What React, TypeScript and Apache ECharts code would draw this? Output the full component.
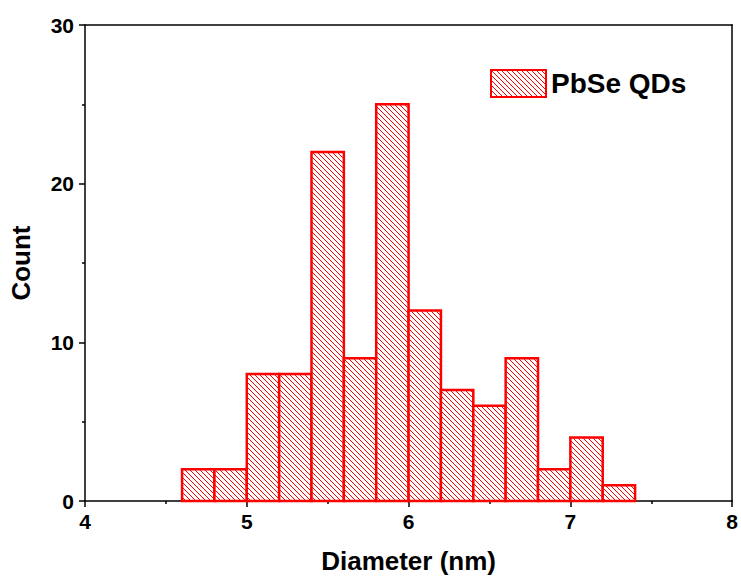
import React, { useEffect, useRef } from "react";
import * as echarts from "echarts";

const binStarts = [4.6, 4.8, 5.0, 5.2, 5.4, 5.6, 5.8, 6.0, 6.2, 6.4, 6.6, 6.8, 7.0, 7.2];
const binWidth = 0.2;
const counts = [2, 2, 8, 8, 22, 9, 25, 12, 7, 6, 9, 2, 4, 1];
const seriesName = "PbSe QDs";
const xTitle = "Diameter (nm)";
const yTitle = "Count";

function makePattern(): string {
  const s = 5;
  const c = document.createElement("canvas");
  c.width = s;
  c.height = s;
  const ctx = c.getContext("2d")!;
  ctx.fillStyle = "#ffffff";
  ctx.fillRect(0, 0, s, s);
  ctx.strokeStyle = "#ff0000";
  ctx.lineWidth = 1;
  for (const o of [-s, 0, s]) {
    ctx.beginPath();
    ctx.moveTo(o, 0);
    ctx.lineTo(o + s, s);
    ctx.stroke();
  }
  return c.toDataURL();
}

export default function App() {
  const ref = useRef<HTMLDivElement>(null);
  useEffect(() => {
    if (!ref.current) return;
    const chart = echarts.init(ref.current, undefined, { renderer: "svg" });
    const img = makePattern();
    const pattern: any = { image: img, repeat: "repeat" };
    const data = binStarts.map((s, i) => [s, s + binWidth, counts[i]]);
    const font = "'Liberation Sans', Arial, sans-serif";
    chart.setOption({
      animation: false,
      backgroundColor: "#ffffff",
      grid: { left: 85, top: 25, right: 5, bottom: 77 },
      legend: {
        show: true,
        left: 485,
        top: 64,
        itemWidth: 55,
        itemHeight: 27,
        icon: "rect",
        textStyle: {
          fontFamily: font,
          fontWeight: "bold",
          fontSize: 28,
          color: "#000",
        },
        data: [{ name: seriesName, icon: "rect" }],
      },
      xAxis: [
        {
          type: "value",
          min: 4,
          max: 8,
          interval: 1,
          name: xTitle,
          nameLocation: "middle",
          nameGap: 47,
          nameTextStyle: { fontFamily: font, fontWeight: "bold", fontSize: 26, color: "#000" },
          axisLine: { show: true, onZero: false, lineStyle: { color: "#000", width: 1.5 } },
          axisTick: { show: true, inside: false, length: 6, lineStyle: { color: "#000", width: 1.5 } },
          minorTick: { show: true, splitNumber: 2, length: 3, lineStyle: { color: "#000", width: 1.5 } },
          axisLabel: { fontFamily: font, fontWeight: "bold", fontSize: 21, color: "#000", margin: 10 },
          splitLine: { show: false },
        },
        {
          type: "value",
          position: "top",
          min: 4,
          max: 8,
          interval: 1,
          axisLine: { show: true, onZero: false, lineStyle: { color: "#000", width: 1.5 } },
          axisTick: { show: false },
          axisLabel: { show: false },
          splitLine: { show: false },
        },
      ],
      yAxis: [
        {
          type: "value",
          min: 0,
          max: 30,
          interval: 10,
          name: yTitle,
          nameLocation: "middle",
          nameGap: 51,
          nameTextStyle: { fontFamily: font, fontWeight: "bold", fontSize: 26, color: "#000" },
          axisLine: { show: true, onZero: false, lineStyle: { color: "#000", width: 1.5 } },
          axisTick: { show: true, inside: false, length: 6, lineStyle: { color: "#000", width: 1.5 } },
          minorTick: { show: true, splitNumber: 2, length: 3, lineStyle: { color: "#000", width: 1.5 } },
          axisLabel: { fontFamily: font, fontWeight: "bold", fontSize: 21, color: "#000", margin: 11 },
          splitLine: { show: false },
        },
        {
          type: "value",
          position: "right",
          min: 0,
          max: 30,
          interval: 10,
          axisLine: { show: true, onZero: false, lineStyle: { color: "#000", width: 1.5 } },
          axisTick: { show: false },
          axisLabel: { show: false },
          splitLine: { show: false },
        },
      ],
      series: [
        {
          name: seriesName,
          type: "custom",
          xAxisIndex: 0,
          yAxisIndex: 0,
          itemStyle: { color: pattern, borderColor: "#ff0000", borderWidth: 2.5 },
          encode: { x: [0, 1], y: 2 },
          data,
          renderItem: (params: any, api: any) => {
            const x0 = api.value(0);
            const x1 = api.value(1);
            const y = api.value(2);
            const p0 = api.coord([x0, y]);
            const p1 = api.coord([x1, 0]);
            return {
              type: "rect",
              shape: { x: p0[0], y: p0[1], width: p1[0] - p0[0], height: p1[1] - p0[1] },
              style: { fill: pattern, stroke: "#ff0000", lineWidth: 2.5 },
            };
          },
        },
      ],
    });
    return () => chart.dispose();
  }, []);
  return (
    <div
      ref={ref}
      style={{ position: "fixed", left: 0, top: 0, width: 741, height: 579, background: "#fff" }}
    />
  );
}
